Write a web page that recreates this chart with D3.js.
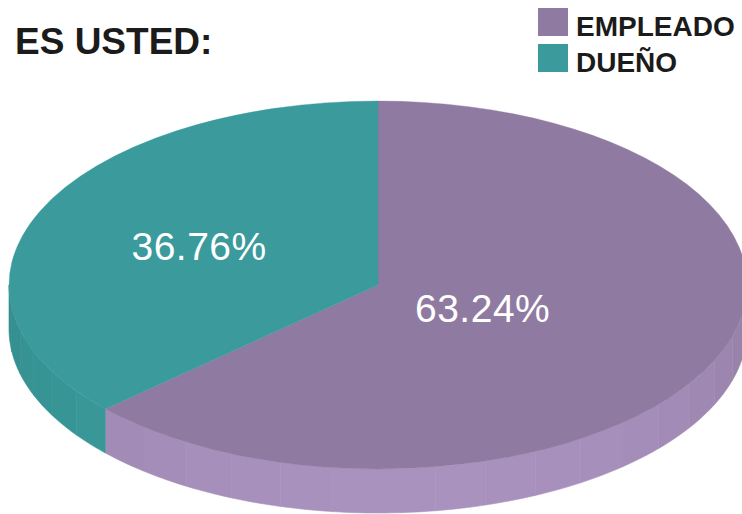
<!DOCTYPE html>
<html>
<head>
<meta charset="utf-8">
<script src="https://cdn.jsdelivr.net/npm/d3@7"></script>
<style>
  html, body { margin: 0; padding: 0; background: #ffffff; }
  svg { display: block; }
  text { font-family: "Liberation Sans", Arial, Helvetica, sans-serif; }
</style>
</head>
<body>
<svg id="chart" width="742" height="514"></svg>
<script>
// Survey answers: "ES USTED:" (are you an employee or an owner?)
const categories = ["EMPLEADO", "DUEÑO"];
const values = [63.24, 36.76];
const valueLabels = ["63.24%", "36.76%"];
const topColors = ["#8f7ba1", "#3a9a9c"];
const sideLight = ["#aa92bf", "#3c9c9c"];
const sideDark = ["#8e799f", "#348e8f"];

const W = 742, H = 514;
const cx = 378, cy = 285;      // centre of the top face
const rx = 369, ry = 184;      // ellipse radii of the top face
const depth = 44;              // thickness of the disc
const labelRadius = [0.31, 0.53];

const svg = d3.select("#chart");

const pie = d3.pie().sort(null).value(d => d)
  .startAngle(0).endAngle(2 * Math.PI);
const arcs = pie(values);

// project an angle (0 = 12 o'clock, clockwise) onto the ellipse
const px = a => cx + rx * Math.sin(a);
const py = a => cy - ry * Math.cos(a);

// ---- side wall: only the front half (angles between π/2 and 3π/2) is visible
const sideG = svg.append("g");
const facetStep = Math.PI / 22;
arcs.forEach((s, i) => {
  const a0 = Math.max(s.startAngle, Math.PI / 2);
  const a1 = Math.min(s.endAngle, 3 * Math.PI / 2);
  if (a1 <= a0) return;
  const shade = d3.interpolateRgb(sideDark[i], sideLight[i]);
  const n = Math.max(1, Math.ceil((a1 - a0) / facetStep));
  for (let k = 0; k < n; k++) {
    const b0 = a0 + (a1 - a0) * k / n;
    const b1 = a0 + (a1 - a0) * (k + 1) / n;
    const mid = (b0 + b1) / 2;
    // brightest near the front, darker toward the sides
    const t = Math.pow(Math.max(0, Math.cos(mid - Math.PI * 0.97)), 0.8);
    const steps = 6;
    const pts = [];
    for (let j = 0; j <= steps; j++) {
      const a = b0 + (b1 - b0) * j / steps;
      pts.push([px(a), py(a)]);
    }
    for (let j = steps; j >= 0; j--) {
      const a = b0 + (b1 - b0) * j / steps;
      pts.push([px(a), py(a) + depth]);
    }
    sideG.append("path")
      .attr("d", d3.line()(pts) + "Z")
      .attr("fill", shade(t))
      .attr("stroke", shade(t))
      .attr("stroke-width", 0.6);
  }
});

// ---- top face: circular arcs squashed into an ellipse
const arcGen = d3.arc().innerRadius(0).outerRadius(rx);
svg.append("g")
  .attr("transform", `translate(${cx},${cy}) scale(1,${ry / rx})`)
  .selectAll("path")
  .data(arcs)
  .join("path")
  .attr("d", arcGen)
  .attr("fill", (d, i) => topColors[i])
  .attr("stroke", (d, i) => topColors[i])
  .attr("stroke-width", 0.5);

// ---- value labels on the top face
svg.append("g")
  .selectAll("text")
  .data(arcs)
  .join("text")
  .attr("x", (d, i) => {
    const m = (d.startAngle + d.endAngle) / 2;
    return cx + rx * labelRadius[i] * Math.sin(m);
  })
  .attr("y", (d, i) => {
    const m = (d.startAngle + d.endAngle) / 2;
    return cy - ry * labelRadius[i] * Math.cos(m);
  })
  .attr("dy", "0.36em")
  .attr("text-anchor", "middle")
  .attr("fill", "#ffffff")
  .attr("font-size", 39)
  .attr("letter-spacing", 0.5)
  .text((d, i) => valueLabels[i]);

// ---- title
svg.append("text")
  .attr("x", 15)
  .attr("y", 54)
  .attr("font-size", 37)
  .attr("font-weight", "bold")
  .attr("fill", "#1b1b1b")
  .text("ES USTED:");

// ---- legend
const legend = svg.append("g").attr("transform", "translate(538,8)");
const lg = legend.selectAll("g")
  .data(categories)
  .join("g")
  .attr("transform", (d, i) => `translate(0,${i * 36})`);
lg.append("rect")
  .attr("width", 30)
  .attr("height", 28)
  .attr("fill", (d, i) => topColors[i]);
lg.append("text")
  .attr("x", 38)
  .attr("y", 28)
  .attr("font-size", 28)
  .attr("font-weight", "bold")
  .attr("fill", "#1b1b1b")
  .text(d => d);
</script>
</body>
</html>
